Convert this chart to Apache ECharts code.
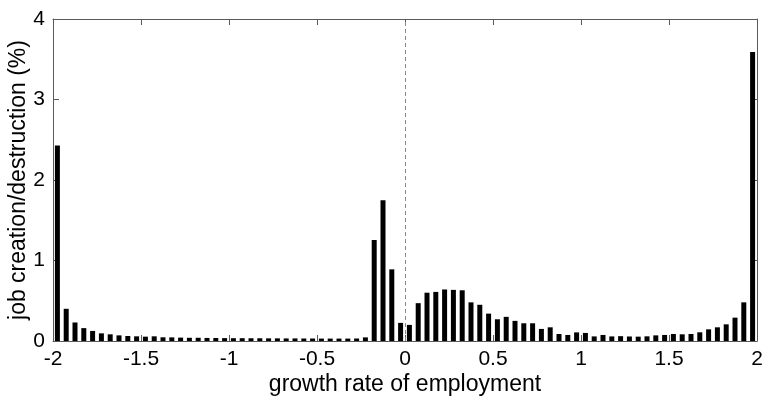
<!DOCTYPE html>
<html>
<head>
<meta charset="utf-8">
<script src="https://cdn.jsdelivr.net/npm/echarts@6/dist/echarts.min.js"></script>
<style>
  html, body { margin: 0; padding: 0; background: #fff; }
  #chart { width: 763px; height: 403px; }
</style>
</head>
<body>
<div id="chart"></div>
<script>
// Bin centres of employment growth rate (bin width 0.05)
const binCenters = [
  -1.975, -1.925, -1.875, -1.825, -1.775, -1.725, -1.675, -1.625, -1.575, -1.525,
  -1.475, -1.425, -1.375, -1.325, -1.275, -1.225, -1.175, -1.125, -1.075, -1.025,
  -0.975, -0.925, -0.875, -0.825, -0.775, -0.725, -0.675, -0.625, -0.575, -0.525,
  -0.475, -0.425, -0.375, -0.325, -0.275, -0.225, -0.175, -0.125, -0.075, -0.025,
  0.025, 0.075, 0.125, 0.175, 0.225, 0.275, 0.325, 0.375, 0.425, 0.475,
  0.525, 0.575, 0.625, 0.675, 0.725, 0.775, 0.825, 0.875, 0.925, 0.975,
  1.025, 1.075, 1.125, 1.175, 1.225, 1.275, 1.325, 1.375, 1.425, 1.475,
  1.525, 1.575, 1.625, 1.675, 1.725, 1.775, 1.825, 1.875, 1.925, 1.975
];

// Share of job creation/destruction (%) in each bin
const jobShare = [
  2.43, 0.40, 0.23, 0.16, 0.125, 0.095, 0.083, 0.07, 0.062, 0.058,
  0.054, 0.058, 0.046, 0.045, 0.042, 0.04, 0.04, 0.038, 0.037, 0.036,
  0.035, 0.035, 0.034, 0.034, 0.033, 0.033, 0.032, 0.032, 0.031, 0.031,
  0.03, 0.03, 0.03, 0.03, 0.031, 0.045, 1.255, 1.75, 0.89, 0.225,
  0.20, 0.47, 0.60, 0.61, 0.64, 0.635, 0.63, 0.48, 0.45, 0.34,
  0.27, 0.30, 0.25, 0.22, 0.22, 0.15, 0.17, 0.087, 0.075, 0.107,
  0.10, 0.057, 0.075, 0.057, 0.06, 0.056, 0.054, 0.058, 0.07, 0.075,
  0.087, 0.083, 0.087, 0.108, 0.145, 0.17, 0.207, 0.29, 0.48, 3.59
];

const xTicks = [-2, -1.5, -1, -0.5, 0, 0.5, 1, 1.5, 2];
const yTicks = [0, 1, 2, 3, 4];

const fontFamily = '"Liberation Sans", Arial, Helvetica, sans-serif';
const axisGray = '#5a5a5a';

const chart = echarts.init(document.getElementById('chart'), null, { renderer: 'canvas' });

const frameAxis = {
  axisLine: { show: true, onZero: false, lineStyle: { color: axisGray, width: 1 } },
  axisTick: { show: true, inside: true, length: 6, lineStyle: { color: axisGray } },
  splitLine: { show: false }
};

chart.setOption({
  animation: false,
  grid: { left: 53, right: 6, top: 19, bottom: 62, containLabel: false, outerBoundsMode: 'none' },
  xAxis: [
    Object.assign({
      type: 'value', position: 'bottom',
      min: xTicks[0], max: xTicks[xTicks.length - 1], interval: 0.5,
      name: 'growth rate of employment', nameLocation: 'middle', nameGap: 32,
      nameMoveOverlap: false,
      nameTextStyle: { fontFamily, fontSize: 23, color: '#000' },
      axisLabel: { fontFamily, fontSize: 21, color: '#000', margin: 8,
        formatter: v => String(v) }
    }, frameAxis),
    Object.assign({
      type: 'value', position: 'top',
      min: xTicks[0], max: xTicks[xTicks.length - 1], interval: 0.5,
      axisLabel: { show: false }
    }, frameAxis)
  ],
  yAxis: [
    Object.assign({
      type: 'value', position: 'left',
      min: yTicks[0], max: yTicks[yTicks.length - 1], interval: 1,
      name: 'job creation/destruction (%)', nameLocation: 'middle', nameGap: 23,
      nameMoveOverlap: false,
      nameTextStyle: { fontFamily, fontSize: 23, color: '#000' },
      axisLabel: { fontFamily, fontSize: 21, color: '#000', margin: 8 }
    }, frameAxis),
    Object.assign({
      type: 'value', position: 'right',
      min: yTicks[0], max: yTicks[yTicks.length - 1], interval: 1,
      axisLabel: { show: false }
    }, frameAxis)
  ],
  series: [{
    type: 'bar',
    xAxisIndex: 0,
    yAxisIndex: 0,
    barWidth: 5,
    itemStyle: { color: '#000' },
    data: binCenters.map((x, i) => [x, jobShare[i]]),
    markLine: {
      silent: true,
      symbol: 'none',
      label: { show: false },
      lineStyle: { color: '#888', type: [4, 3], width: 1 },
      data: [{ xAxis: 0 }]
    }
  }]
});
</script>
</body>
</html>
